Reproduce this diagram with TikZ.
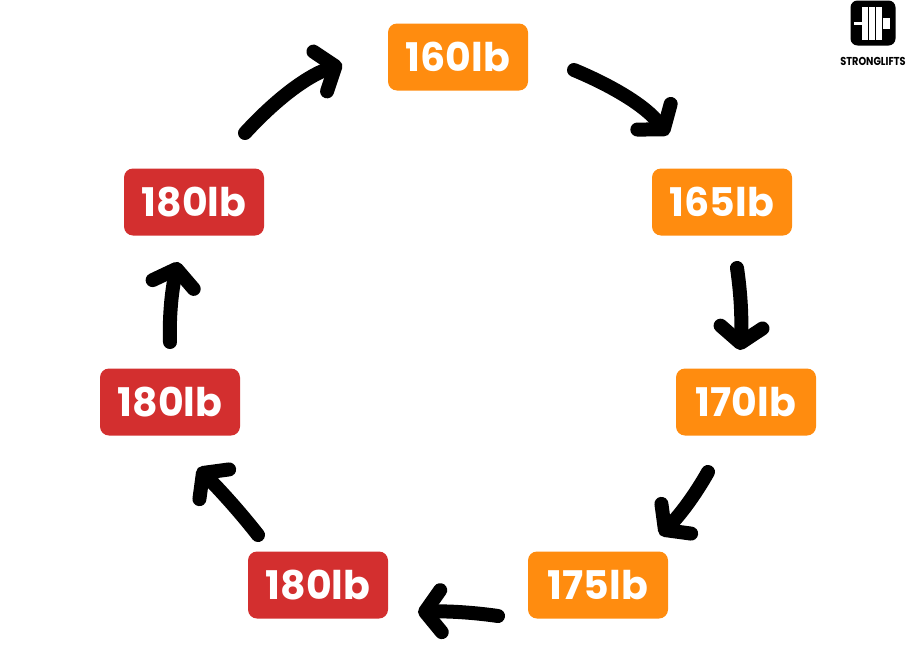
\documentclass[tikz,border=0pt]{standalone}
\usepackage{fontspec}
\setmainfont{Poppins}
\usetikzlibrary{arrows.meta}
\definecolor{org}{HTML}{FF8C0F}
\definecolor{rd}{HTML}{D32F2F}
\tikzset{
 box/.style={rounded corners=9pt,minimum width=140pt,minimum height=67pt,text=white,font=\fontsize{39.5}{40}\selectfont\bfseries,inner sep=0pt},
 ob/.style={box,fill=org}, rb/.style={box,fill=rd},
 arr/.style={line width=14pt,line cap=round,-{Straight Barb[length=16pt,width=42pt,line cap=round,line join=round]}}
}
\begin{document}
\begin{tikzpicture}[x=1pt,y=-1pt]
\useasboundingbox (0,0) rectangle (916,664);
\node[ob] (a) at (458,57) {160lb};
\node[ob] (b) at (722,202) {165lb};
\node[ob] (c) at (746,402) {170lb};
\node[ob] (d) at (598,585) {175lb};
\node[rb] (e) at (318,585) {180lb};
\node[rb] (f) at (170,402) {180lb};
\node[rb] (g) at (194,202) {180lb};
\draw[arr] (245,133) .. controls (280,95) and (310,75) .. (342,64);
\draw[arr] (574,70) .. controls (610,85) and (645,105) .. (668,135);
\draw[arr] (737,268) .. controls (741,295) and (742,320) .. (740,350);
\draw[arr] (708,472) .. controls (695,495) and (680,515) .. (660,535);
\draw[arr] (498,616) .. controls (470,612) and (445,611) .. (418,612);
\draw[arr] (258,535) .. controls (240,512) and (220,490) .. (198,468);
\draw[arr] (170,342) .. controls (169,315) and (172,290) .. (178,262);
% logo
\node[fill=black,rounded corners=7pt,minimum width=45pt,minimum height=45pt,inner sep=0pt] (logo) at (873,23) {};
\fill[white] (854,22) rectangle (862,25);
\foreach \xx in {862,869,876}{\fill[white] (\xx,7) rectangle (\xx+5.5,40);}
\fill[white] (883,18) rectangle (890,29);
\node[font=\fontsize{11.5}{12}\selectfont\bfseries,inner sep=0pt,xscale=0.85] (lt) at (873,61) {STRONGLIFTS};
\end{tikzpicture}
\end{document}
